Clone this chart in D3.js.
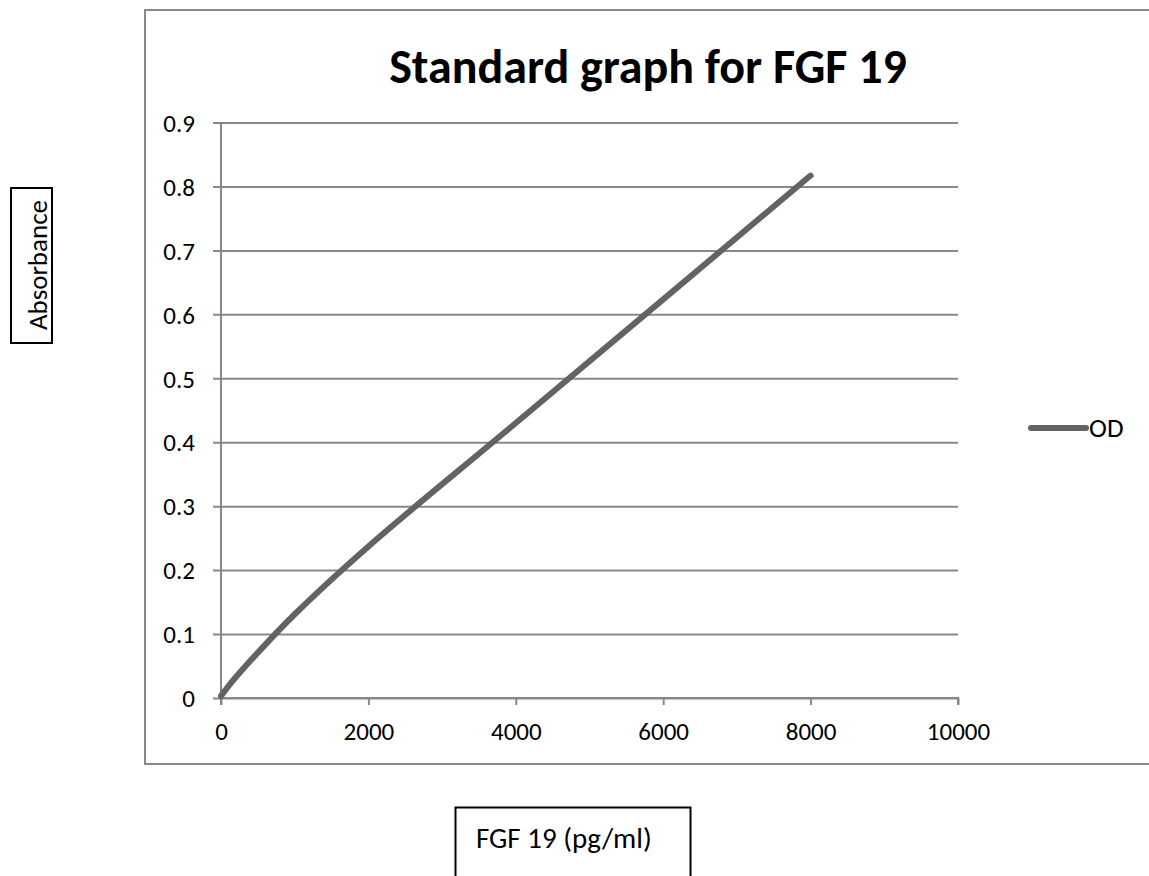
<!DOCTYPE html>
<html>
<head>
<meta charset="utf-8">
<script src="https://cdn.jsdelivr.net/npm/d3@7"></script>
<style>
  html, body { margin: 0; padding: 0; background: #fff; }
  svg { display: block; font-family: Carlito, Calibri, Lato, "Open Sans", sans-serif; }
</style>
</head>
<body>
<svg id="chart" width="1149" height="876"></svg>
<script>
// FGF 19 standard curve: concentration (pg/ml) vs optical density
const concentrations = [0, 125, 250, 500, 1000, 2000, 4000, 8000];
const odValues = [0.003, 0.022, 0.039, 0.071, 0.131, 0.237, 0.430, 0.817];
const xTicks = [0, 2000, 4000, 6000, 8000, 10000];
const yTicks = [0, 0.1, 0.2, 0.3, 0.4, 0.5, 0.6, 0.7, 0.8, 0.9];
const seriesName = "OD";
const titleText = "Standard graph for FGF 19";
const xTitle = "FGF 19 (pg/ml)";
const yTitle = "Absorbance";

const gridColor = "#888888";
const lineColor = "#636363";

const svg = d3.select("#chart");

const x = d3.scaleLinear().domain([0, 10000]).range([221, 958]);
const y = d3.scaleLinear().domain([0, 0.9]).range([698, 122.5]);

// chart area frame
svg.append("rect")
  .attr("x", 145).attr("y", 10)
  .attr("width", 1020).attr("height", 754)
  .attr("fill", "none").attr("stroke", gridColor).attr("stroke-width", 2);

// title
svg.append("text")
  .attr("x", 648).attr("y", 83)
  .attr("text-anchor", "middle")
  .attr("font-size", 48).attr("font-weight", "bold")
  .attr("fill", "#000")
  .text(titleText);

// horizontal gridlines with left tick labels
const plotW = x(10000) - x(0);
const yAxis = d3.axisLeft(y)
  .tickValues(yTicks)
  .tickSize(plotW + 8)
  .tickFormat(d => String(+d.toFixed(1)));
const gy = svg.append("g")
  .attr("transform", `translate(${x(10000)},0)`)
  .call(yAxis)
  .attr("font-family", null).attr("font-size", null);
gy.select(".domain").remove();
gy.selectAll(".tick line").attr("stroke", gridColor).attr("stroke-width", 2);
gy.selectAll(".tick text")
  .attr("x", -(x(10000) - 195))
  .attr("dy", "0.35em")
  .attr("font-size", 25).attr("fill", "#000");

// vertical axis line
svg.append("line")
  .attr("x1", x(0)).attr("x2", x(0))
  .attr("y1", y(0.9)).attr("y2", y(0) + 7)
  .attr("stroke", gridColor).attr("stroke-width", 2);

// bottom axis
const xAxis = d3.axisBottom(x).tickValues(xTicks).tickSize(7).tickPadding(17)
  .tickFormat(d3.format("d"));
const gx = svg.append("g")
  .attr("transform", `translate(0,${y(0)})`)
  .call(xAxis)
  .attr("font-family", null).attr("font-size", null);
gx.select(".domain").attr("stroke", gridColor).attr("stroke-width", 2)
  .attr("d", `M${x(0)},0H${x(10000)}V7`);
gx.selectAll(".tick line").attr("stroke", gridColor).attr("stroke-width", 2);
gx.selectAll(".tick text").attr("font-size", 25).attr("fill", "#000");

// smoothed standard curve
const data = concentrations.map((c, i) => ({ c, od: odValues[i] }));
const line = d3.line()
  .x(d => x(d.c)).y(d => y(d.od))
  .curve(d3.curveCatmullRom.alpha(0.5));
svg.append("path")
  .datum(data)
  .attr("d", line)
  .attr("fill", "none")
  .attr("stroke", lineColor).attr("stroke-width", 6)
  .attr("stroke-linecap", "round").attr("stroke-linejoin", "round");

// legend
svg.append("line")
  .attr("x1", 1031).attr("x2", 1086).attr("y1", 428).attr("y2", 428)
  .attr("stroke", lineColor).attr("stroke-width", 6).attr("stroke-linecap", "round");
svg.append("text")
  .attr("x", 1089).attr("y", 437)
  .attr("font-size", 27).attr("fill", "#000")
  .text(seriesName);

// y-axis title in a framed box
svg.append("rect")
  .attr("x", 11).attr("y", 188).attr("width", 41).attr("height", 155)
  .attr("fill", "#fff").attr("stroke", "#000").attr("stroke-width", 2);
svg.append("text")
  .attr("transform", "translate(47,265) rotate(-90)")
  .attr("text-anchor", "middle")
  .attr("font-size", 27).attr("fill", "#000")
  .text(yTitle);

// x-axis title in a framed box (extends past the bottom edge)
svg.append("rect")
  .attr("x", 455.5).attr("y", 807.5).attr("width", 235).attr("height", 100)
  .attr("fill", "#fff").attr("stroke", "#000").attr("stroke-width", 2);
svg.append("text")
  .attr("x", 476).attr("y", 848)
  .attr("font-size", 29).attr("fill", "#000")
  .text(xTitle);
</script>
</body>
</html>
